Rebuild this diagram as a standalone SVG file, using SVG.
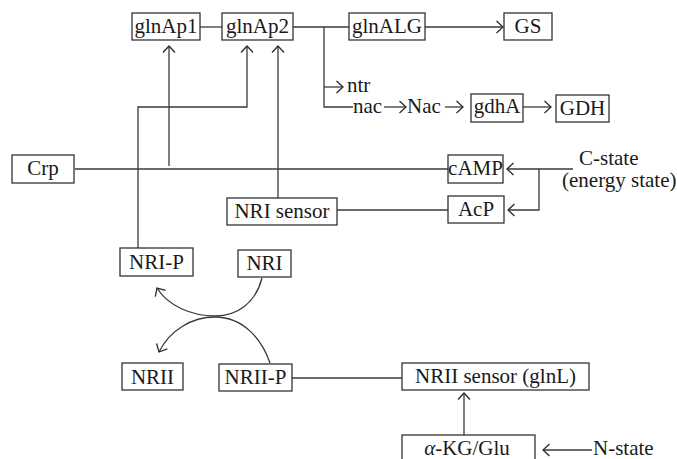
<svg xmlns="http://www.w3.org/2000/svg" width="677" height="459" viewBox="0 0 677 459">
<defs>
<marker id="ah" markerUnits="userSpaceOnUse" markerWidth="16" markerHeight="16" viewBox="-8 -8 16 16" refX="0" refY="0" orient="auto">
<path d="M-6.5,-6 L0,0 L-6.5,6" fill="none" stroke="#2b2b2b" stroke-width="1.3"/>
</marker>
</defs>
<style>
.box{fill:#fff;stroke:#333;stroke-width:1.3}
.t{font-family:"Liberation Serif","Times New Roman",serif;font-size:21px;fill:#1a1a1a}
.c{text-anchor:middle}
.ln{fill:none;stroke:#3a3a3a;stroke-width:1.3}
.ar{fill:none;stroke:#3a3a3a;stroke-width:1.3;marker-end:url(#ah)}
</style>
<rect width="677" height="459" fill="#fff"/>
<g id="connectors">
<path class="ln" d="M200,27 H222"/>
<path class="ln" d="M293,27 H349"/>
<path class="ar" d="M425,27 H503"/>
<path class="ln" d="M324,27 V107 H353"/>
<path class="ar" d="M324,87 H343"/>
<path class="ar" d="M384,107 H406"/>
<path class="ar" d="M445,107 H463"/>
<path class="ar" d="M523,107 H551"/>
<path class="ar" d="M169,166 V46"/>
<path class="ar" d="M138,248 V107 H247 V46"/>
<path class="ar" d="M278,198 V46"/>
<path class="ln" d="M75,169 H448"/>
<path class="ln" d="M337,210 H448"/>
<path class="ar" d="M573,169 H507"/>
<path class="ar" d="M539,169 V210 H508"/>
<path class="ar" d="M262,278 C256,302 238,316 215,316 C192,316 168,306 157,288"/>
<path class="ar" d="M270,363 C262,340 244,317 215,317 C192,317 170,330 159,352"/>
<path class="ln" d="M292,378 H402"/>
<path class="ar" d="M464,435 V393"/>
<path class="ar" d="M592,450 H543"/>
</g>
<g id="glnAp1"><rect class="box" x="132" y="13" width="68" height="27"/><text class="t c" x="166" y="33">glnAp1</text></g>
<g id="glnAp2"><rect class="box" x="222" y="13" width="71" height="27"/><text class="t c" x="257.5" y="33">glnAp2</text></g>
<g id="glnALG"><rect class="box" x="349" y="13" width="76" height="27"/><text class="t c" x="387" y="33">glnALG</text></g>
<g id="GS"><rect class="box" x="504" y="13" width="48" height="27"/><text class="t c" x="528" y="33">GS</text></g>
<g id="ntr"><text class="t" x="347" y="92">ntr</text></g>
<g id="nac"><text class="t" x="353" y="113">nac</text></g>
<g id="Nac"><text class="t" x="407" y="113">Nac</text></g>
<g id="gdhA"><rect class="box" x="471" y="94" width="52" height="28"/><text class="t c" x="497" y="113">gdhA</text></g>
<g id="GDH"><rect class="box" x="556" y="95" width="53" height="27"/><text class="t c" x="582.5" y="115">GDH</text></g>
<g id="Crp"><rect class="box" x="12" y="155" width="62" height="28"/><text class="t c" x="43" y="175">Crp</text></g>
<g id="cAMP"><rect class="box" x="448" y="155" width="55" height="28"/><text class="t c" x="475.5" y="175">cAMP</text></g>
<g id="AcP"><rect class="box" x="448" y="196" width="56" height="27"/><text class="t c" x="476" y="216">AcP</text></g>
<g id="Cstate"><text class="t" x="579" y="165">C-state</text><text class="t" x="562" y="187">(energy state)</text></g>
<g id="NRIsensor"><rect class="box" x="227" y="198" width="110" height="27"/><text class="t c" x="282" y="218">NRI sensor</text></g>
<g id="NRI-P"><rect class="box" x="120" y="248" width="73" height="28"/><text class="t c" x="156.5" y="269">NRI-P</text></g>
<g id="NRI"><rect class="box" x="238" y="250" width="53" height="27"/><text class="t c" x="264.5" y="270">NRI</text></g>
<g id="NRII"><rect class="box" x="122" y="363" width="61" height="27"/><text class="t c" x="152.5" y="384">NRII</text></g>
<g id="NRII-P"><rect class="box" x="219" y="364" width="73" height="27"/><text class="t c" x="255.5" y="384">NRII-P</text></g>
<g id="NRIIsensor"><rect class="box" x="402" y="363" width="187" height="27"/><text class="t c" x="495.5" y="383">NRII sensor (glnL)</text></g>
<g id="aKG"><rect class="box" x="402" y="435" width="133" height="30"/><text class="t c" x="467" y="455"><tspan font-style="italic">α</tspan>-KG/Glu</text></g>
<g id="Nstate"><text class="t" x="593" y="455">N-state</text></g>
</svg>
